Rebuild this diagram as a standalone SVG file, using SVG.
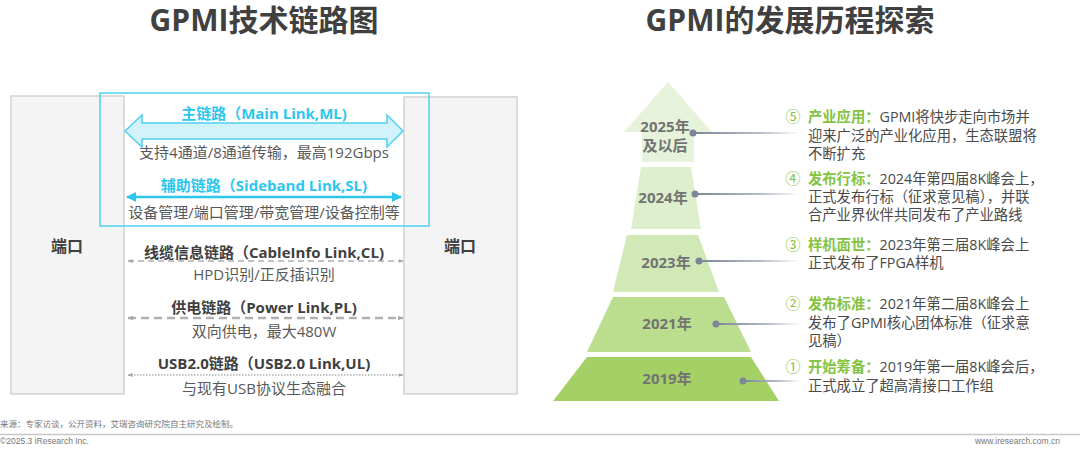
<svg xmlns="http://www.w3.org/2000/svg" width="1080" height="452" viewBox="0 0 1080 452">
<style>
text{font-family:"Open Sans","Noto Sans CJK SC",sans-serif;}
.title{font-size:30px;font-weight:bold;fill:#404040;text-anchor:middle;}
.port{fill:#f4f4f4;stroke:#d2d2d2;stroke-width:1.5;}
.plabel{font-size:16px;font-weight:bold;fill:#404040;text-anchor:middle;}
.cyanL{font-size:15px;font-weight:bold;fill:#2cc6ef;text-anchor:middle;}
.darkL{font-size:15px;font-weight:bold;fill:#404040;text-anchor:middle;}
.desc{font-size:15px;fill:#595959;text-anchor:middle;}
.yr{font-size:15px;font-weight:bold;fill:#737373;text-anchor:middle;}
.rt{font-size:14.3px;fill:#4a4a4a;}
.gn{fill:#84c341;font-weight:bold;}
.num{font-size:15px;fill:#84c341;text-anchor:middle;}
.dot{fill:#7b8696;}
.foot{font-size:8.5px;fill:#777;font-family:"Liberation Sans","Noto Sans CJK SC",sans-serif;}
</style>
<defs>
<linearGradient id="fade" x1="0" y1="0" x2="1" y2="0">
<stop offset="0" stop-color="#7b8696"/>
<stop offset="0.6" stop-color="#b4bcc6"/>
<stop offset="1" stop-color="#ffffff"/>
</linearGradient>
<marker id="ca" viewBox="0 0 10 10" refX="9" refY="5" markerWidth="4" markerHeight="4" orient="auto-start-reverse">
<path d="M0,0 L10,5 L0,10 Z" fill="#2cc6ef"/>
</marker>
<marker id="ga" viewBox="0 0 10 10" refX="9" refY="5" markerWidth="5" markerHeight="5" orient="auto-start-reverse" markerUnits="userSpaceOnUse">
<path d="M0,1 L10,5 L0,9 Z" fill="#a8a8a8"/>
</marker>
<marker id="gb" viewBox="0 0 10 10" refX="9" refY="5" markerWidth="6" markerHeight="6" orient="auto-start-reverse" markerUnits="userSpaceOnUse">
<path d="M0,1 L10,5 L0,9 Z" fill="#a8a8a8"/>
</marker>
</defs>
<rect width="1080" height="452" fill="#ffffff"/>

<text class="title" x="264" y="31">GPMI技术链路图</text>
<text class="title" x="790" y="31">GPMI的发展历程探索</text>

<g id="port-left">
<rect class="port" x="11" y="96" width="113" height="298"/>
<text class="plabel" x="67" y="252">端口</text>
</g>
<g id="port-right">
<rect class="port" x="404" y="97" width="113" height="297"/>
<text class="plabel" x="460" y="252">端口</text>
</g>

<g id="connectors">
<rect x="100" y="93" width="329" height="133" fill="none" stroke="#4fd0f2" stroke-width="1.5"/>
<path d="M125,131 L142,115 L142,123 L387,123 L387,115 L403,131 L387,147 L387,139 L142,139 L142,147 Z" fill="#d2f3fb" stroke="#4fd0f2" stroke-width="1.5"/>
<line x1="127" y1="197" x2="401" y2="197" stroke="#2cc6ef" stroke-width="2.5" marker-start="url(#ca)" marker-end="url(#ca)"/>
<line x1="128" y1="261" x2="403" y2="261" stroke="#b0b0b0" stroke-width="1.5" stroke-dasharray="6,4" marker-start="url(#ga)" marker-end="url(#ga)"/>
<line x1="128" y1="318" x2="403" y2="318" stroke="#b0b0b0" stroke-width="2.5" stroke-dasharray="8,5" marker-start="url(#gb)" marker-end="url(#gb)"/>
<line x1="128" y1="375" x2="403" y2="375" stroke="#b0b0b0" stroke-width="1.5" stroke-dasharray="1.5,1.5" marker-start="url(#ga)" marker-end="url(#ga)"/>
</g>

<g id="main-link">
<text class="cyanL" x="264" y="119">主链路（Main Link,ML)</text>
<text class="desc" x="264" y="158">支持4通道/8通道传输，最高192Gbps</text>
</g>
<g id="sideband-link">
<text class="cyanL" x="264" y="191">辅助链路（Sideband Link,SL)</text>
<text class="desc" x="264" y="218">设备管理/端口管理/带宽管理/设备控制等</text>
</g>
<g id="cableinfo-link">
<text class="darkL" x="264" y="258">线缆信息链路（CableInfo Link,CL)</text>
<text class="desc" x="264" y="280">HPD识别/正反插识别</text>
</g>
<g id="power-link">
<text class="darkL" x="264" y="313">供电链路（Power Link,PL)</text>
<text class="desc" x="264" y="337">双向供电，最大480W</text>
</g>
<g id="usb-link">
<text class="darkL" x="264" y="369">USB2.0链路（USB2.0 Link,UL)</text>
<text class="desc" x="264" y="394">与现有USB协议生态融合</text>
</g>

<g id="stage-2025">
<path d="M668,82 L712,132 L694,132 L694,162 L642,162 L642,132 L624,132 Z" fill="#e6f3da"/>
<text class="yr" x="665" y="132">2025年</text>
<text class="yr" x="665" y="151">及以后</text>
<rect x="693" y="132" width="108" height="2" fill="url(#fade)"/>
<circle class="dot" cx="693" cy="133" r="3.5"/>
<text class="num" x="793" y="122">⑤</text>
<text class="rt" x="808" y="122"><tspan class="gn">产业应用：</tspan>GPMI将快步走向市场并</text>
<text class="rt" x="808" y="141">迎来广泛的产业化应用，生态联盟将</text>
<text class="rt" x="808" y="159">不断扩充</text>
</g>
<g id="stage-2024">
<path d="M641,167 L691,167 L701,229 L631,229 Z" fill="#ddefcc"/>
<text class="yr" x="663" y="203">2024年</text>
<rect x="695" y="193" width="106" height="2" fill="url(#fade)"/>
<circle class="dot" cx="695" cy="194" r="3.5"/>
<text class="num" x="793" y="184">④</text>
<text class="rt" x="808" y="184"><tspan class="gn">发布行标：</tspan>2024年第四届8K峰会上，</text>
<text class="rt" x="808" y="202">正式发布行标（征求意见稿），并联</text>
<text class="rt" x="808" y="220">合产业界伙伴共同发布了产业路线</text>
</g>
<g id="stage-2023">
<path d="M627,235 L698,235 L719,292 L613,292 Z" fill="#d0e9b6"/>
<text class="yr" x="666" y="268">2023年</text>
<rect x="699" y="260" width="102" height="2" fill="url(#fade)"/>
<circle class="dot" cx="699" cy="261" r="3.5"/>
<text class="num" x="793" y="250">③</text>
<text class="rt" x="808" y="250"><tspan class="gn">样机面世：</tspan>2023年第三届8K峰会上</text>
<text class="rt" x="808" y="268">正式发布了FPGA样机</text>
</g>
<g id="stage-2021">
<path d="M613,297 L724,297 L751,352 L587,352 Z" fill="#badd8e"/>
<text class="yr" x="667" y="329">2021年</text>
<rect x="716" y="323" width="85" height="2" fill="url(#fade)"/>
<circle class="dot" cx="716" cy="324" r="3.5"/>
<text class="num" x="793" y="309">②</text>
<text class="rt" x="808" y="309"><tspan class="gn">发布标准：</tspan>2021年第二届8K峰会上</text>
<text class="rt" x="808" y="328">发布了GPMI核心团体标准（征求意</text>
<text class="rt" x="808" y="346">见稿）</text>
</g>
<g id="stage-2019">
<path d="M587,357 L751,357 L779,401 L553,401 Z" fill="#a5d066"/>
<text class="yr" x="667" y="384">2019年</text>
<rect x="743" y="380" width="58" height="2" fill="url(#fade)"/>
<circle class="dot" cx="743" cy="381" r="3.5"/>
<text class="num" x="793" y="372">①</text>
<text class="rt" x="808" y="372"><tspan class="gn">开始筹备：</tspan>2019年第一届8K峰会后，</text>
<text class="rt" x="808" y="391">正式成立了超高清接口工作组</text>
</g>

<g id="footer">
<text class="foot" x="0" y="427">来源：专家访谈，公开资料，艾瑞咨询研究院自主研究及绘制。</text>
<line x1="0" y1="434.5" x2="1080" y2="434.5" stroke="#c8c8c8" stroke-width="1.5"/>
<text class="foot" x="0" y="444">©2025.3 iResearch Inc.</text>
<text class="foot" x="1060" y="444" text-anchor="end">www.iresearch.com.cn</text>
</g>
</svg>
